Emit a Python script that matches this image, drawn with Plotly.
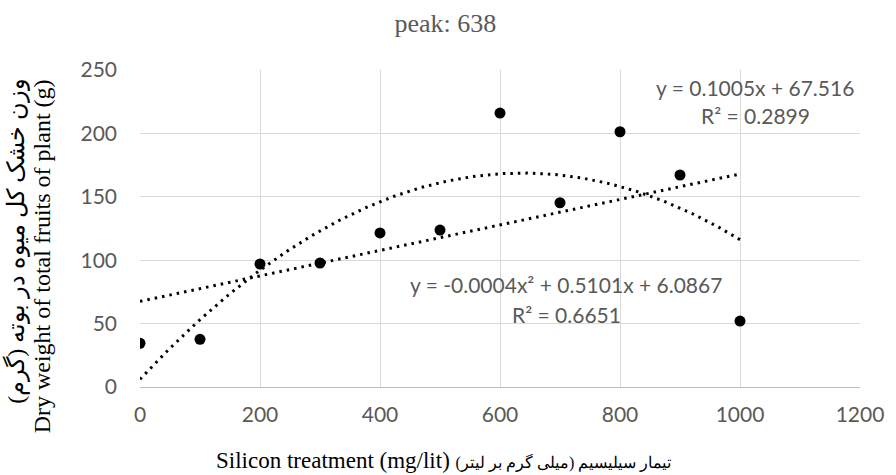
import numpy as np
import plotly.graph_objects as go

# Silicon dose (mg/lit) and dry weight of total fruits per plant (g)
silicon_dose = [0, 100, 200, 300, 400, 500, 600, 700, 800, 900, 1000]
dry_weight = [34.5, 37.6, 97, 97.8, 121.5, 123.8, 216, 145.3, 201.3, 167.2, 52]

# Trendline coefficients as printed on the chart
lin_coef = {"slope": 0.1005, "intercept": 67.516, "r2": 0.2899}
quad_coef = {"a": -0.0004, "b": 0.5101, "c": 6.0867, "r2": 0.6651}

x_ticks = [0, 200, 400, 600, 800, 1000, 1200]
y_ticks = [0, 50, 100, 150, 200, 250]

peak_x = round(-quad_coef["b"] / (2 * quad_coef["a"]))

xs = np.linspace(0, 1000, 201)
lin_y = lin_coef["slope"] * xs + lin_coef["intercept"]
quad_y = quad_coef["a"] * xs ** 2 + quad_coef["b"] * xs + quad_coef["c"]

sans = "Lato, Carlito, 'Open Sans', sans-serif"
serif = "Liberation Serif, 'Times New Roman', serif"
tick_font = dict(family=sans, size=21, color="#595959")
dotted = dict(color="black", width=3, dash="2.5px,5px")

fig = go.Figure()
fig.add_trace(go.Scatter(x=xs, y=quad_y, mode="lines", line=dotted,
                         hoverinfo="skip", showlegend=False))
fig.add_trace(go.Scatter(x=xs, y=lin_y, mode="lines", line=dotted,
                         hoverinfo="skip", showlegend=False))
fig.add_trace(go.Scatter(x=silicon_dose, y=dry_weight, mode="markers",
                         marker=dict(color="black", size=11), showlegend=False))

fig.update_layout(
    width=896, height=475,
    margin=dict(l=140, r=26, t=70, b=88),
    paper_bgcolor="white", plot_bgcolor="white",
    title=dict(text=f"peak: {peak_x}", x=0.497, xanchor="center", y=0.952, yanchor="middle",
               font=dict(family=serif, size=26, color="#595959")),
)
fig.update_xaxes(range=[0, 1200], tickvals=x_ticks, ticktext=[str(v) for v in x_ticks],
                 showgrid=True, gridcolor="#d9d9d9", gridwidth=1.3,
                 showline=True, linecolor="#bfbfbf", linewidth=1.3,
                 zeroline=False, ticks="", tickfont=tick_font, ticklabelstandoff=9)
fig.update_yaxes(range=[0, 250], tickvals=y_ticks, ticktext=[str(v) for v in y_ticks],
                 showgrid=True, gridcolor="#d9d9d9", gridwidth=1.3,
                 zeroline=False, ticks="", tickfont=tick_font, ticklabelstandoff=22)

eq_font = dict(family=sans, size=21, color="#595959")
labels = [
    (1025, 236, f"y = {lin_coef['slope']}x + {lin_coef['intercept']}"),
    (1025, 214.5, f"R² = {lin_coef['r2']}"),
    (710, 80.5, f"y = {quad_coef['a']}x² + {quad_coef['b']}x + {quad_coef['c']}"),
    (710, 57, f"R² = {quad_coef['r2']}"),
]
for lx, ly, txt in labels:
    fig.add_annotation(x=lx, y=ly, xref="x", yref="y", text=txt, showarrow=False,
                       xanchor="center", yanchor="middle", font=eq_font)

axis_font = dict(family=serif, size=24, color="black")
fig.add_annotation(x=14, y=475 - 241, xref="paper", yref="paper", text="وزن خشک کل میوه در بوته (گرم)",
                   showarrow=False, textangle=-90, font=axis_font)
fig.add_annotation(x=41, y=475 - 256, xref="paper", yref="paper", text="Dry weight of total fruits of plant (g)",
                   showarrow=False, textangle=-90, font=axis_font)
fig.add_annotation(x=448, y=475 - 461, xref="paper", yref="paper",
                   text="Silicon treatment (mg/lit) <span style='font-size:16px'>تیمار سیلیسیم (میلی گرم بر لیتر)</span>",
                   showarrow=False, font=dict(family=serif, size=23, color="black"))

# paper coordinates above are given in pixels; convert to fractions of the plot area
for ann in fig.layout.annotations:
    if ann.xref == "paper":
        ann.x = (ann.x - 140) / (896 - 140 - 26)
        ann.y = (ann.y - 88) / (475 - 70 - 88)
        ann.xanchor = "center"
        ann.yanchor = "middle"

fig.write_html("out.html")
